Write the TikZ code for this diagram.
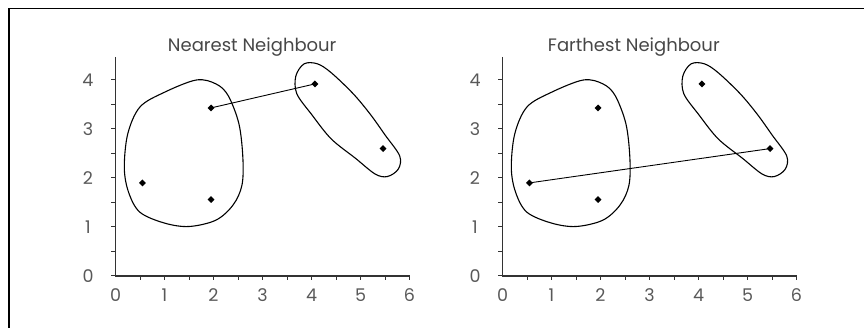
\documentclass[tikz,border=0pt]{standalone}
\usepackage{fontspec}
\setmainfont{Poppins}
\usetikzlibrary{shapes.geometric}
\newcommand\myaxes{%
  \draw[axisline] (0,4.47) -- (0,0) -- (6,0);
  \foreach \v in {0,0.5,...,4} \draw[tickline] (0,\v) -- ++(-5pt,0);
  \foreach \v in {0.5,1,...,6} \draw[tickline] (\v,0) -- ++(0,-4.5pt);
  \foreach \v in {0,...,4} \node[lab] at ([xshift=-27.5pt]0,\v) {\v};
  \foreach \v in {0,...,6} \node[lab] at ([yshift=-19pt]\v,0) {\v};
}
\newcommand\myblobs{%
  \draw[blob] plot[smooth cycle,tension=0.55] coordinates {(1.65,4.0) (2.05,3.92) (2.3,3.68) (2.52,3.1) (2.6,2.4) (2.58,1.85) (2.4,1.45) (2.05,1.14) (1.5,1.01) (1.0,1.08) (0.5,1.3) (0.27,1.7) (0.18,2.2) (0.25,2.9) (0.5,3.45) (1.0,3.75)};
  \draw[blob] plot[smooth cycle,tension=0.55] coordinates {(3.85,4.33) (4.12,4.33) (4.4,4.15) (4.85,3.72) (5.2,3.3) (5.5,2.88) (5.8,2.45) (5.77,2.18) (5.55,2.03) (5.3,2.08) (4.9,2.4) (4.4,2.8) (4.0,3.3) (3.7,3.72) (3.68,4.08)};
}
\begin{document}
\begin{tikzpicture}[x=1pt,y=1pt,
  pt/.style={diamond,fill=black,inner sep=0pt,minimum size=7pt},
  blob/.style={line width=1.1pt},
  axisline/.style={line width=1.4pt,color=black!80},
  tickline/.style={line width=1pt,color=black!80},
  lab/.style={font=\fontsize{17.5}{18}\selectfont,text=black!65},
  ttl/.style={font=\fontsize{18}{19}\selectfont,text=black!72},
  link/.style={line width=0.9pt}]
\useasboundingbox (0,0) rectangle (864,328);
\draw[line width=1.6pt] (9,0) -- (9,319.5) -- (864,319.5);
% left panel
\begin{scope}[shift={(115.5,52)},x=49pt,y=49pt]
  \myaxes
  \node[ttl] (Lt) at (2.79,4.67) {Nearest Neighbour};
  \myblobs
  \node[pt] (La) at (0.55,1.9) {};
  \node[pt] (Lb) at (1.95,3.43) {};
  \node[pt] (Lc) at (1.95,1.56) {};
  \node[pt] (Ld) at (4.07,3.92) {};
  \node[pt] (Le) at (5.46,2.6) {};
  \draw[link] (Lb.center) -- (Ld.center);
\end{scope}
% right panel
\begin{scope}[shift={(502.5,52)},x=49pt,y=49pt]
  \myaxes
  \node[ttl] (Rt) at (2.68,4.67) {Farthest Neighbour};
  \myblobs
  \node[pt] (Ra) at (0.55,1.9) {};
  \node[pt] (Rb) at (1.95,3.43) {};
  \node[pt] (Rc) at (1.95,1.56) {};
  \node[pt] (Rd) at (4.07,3.92) {};
  \node[pt] (Re) at (5.46,2.6) {};
  \draw[link] (Ra.center) -- (Re.center);
\end{scope}
\end{tikzpicture}
\end{document}
